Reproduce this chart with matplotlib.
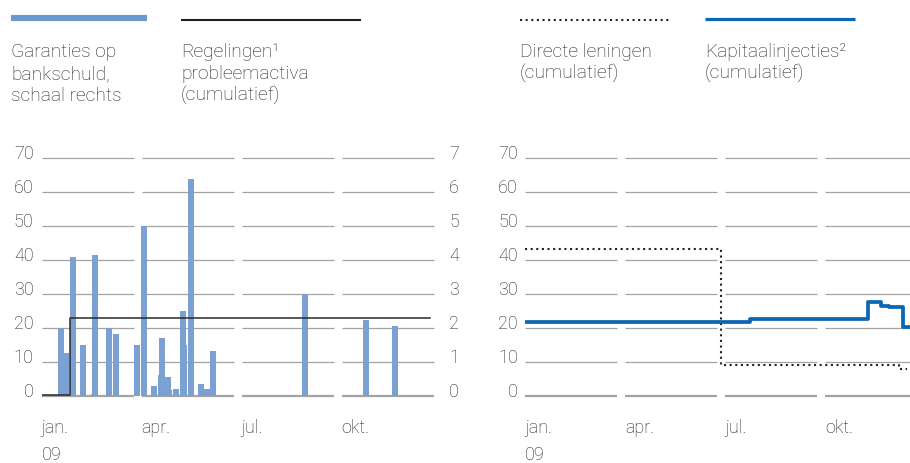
import numpy as np
import pandas as pd
import matplotlib
matplotlib.use("Agg")
import matplotlib.pyplot as plt
from matplotlib.lines import Line2D

# ---- data ------------------------------------------------------------------
# Garanties op bankschuld (right scale, 0-7); list order = drawing order
garantie_dates = ["2009-01-19", "2009-01-24", "2009-01-30", "2009-02-08",
                  "2009-02-17", "2009-02-18", "2009-03-02", "2009-03-08",
                  "2009-03-28", "2009-04-03", "2009-04-12", "2009-04-18",
                  "2009-04-19", "2009-04-26", "2009-04-25", "2009-05-02",
                  "2009-05-09", "2009-05-08", "2009-05-16", "2009-05-25",
                  "2009-05-31", "2009-06-05", "2009-08-29", "2009-10-24",
                  "2009-11-19"]
garantie_vals = [2.0, 1.27, 4.1, 1.51,
                 0.07, 4.16, 2.0, 1.83,
                 1.51, 5.0, 0.30, 0.63,
                 1.72, 0.19, 0.57, 0.22,
                 1.51, 2.51, 6.39, 0.36,
                 0.22, 1.33, 3.0, 2.25,
                 2.07]

# Regelingen probleemactiva, cumulatief (left scale)
regeling_dates = ["2009-01-01", "2009-01-27", "2009-12-21"]
regeling_vals = [0.5, 23.0, 23.0]

# Directe leningen, cumulatief
lening_dates = ["2009-01-01", "2009-06-27", "2009-12-08", "2009-12-15"]
lening_vals = [43.3, 9.2, 8.0, 8.0]

# Kapitaalinjecties, cumulatief
kapitaal_dates = ["2009-01-01", "2009-07-24", "2009-11-10", "2009-11-21",
                  "2009-11-29", "2009-12-12", "2009-12-31"]
kapitaal_vals = [21.8, 22.7, 27.7, 26.5, 26.2, 20.5, 20.5]

month_ticks = [0, 3, 6, 9]
month_labels = ["jan.", "apr.", "jul.", "okt."]
left_ticks = list(range(0, 80, 10))
right_ticks = list(range(0, 8))

# ---- style -----------------------------------------------------------------
FONT = ["Roboto", "DejaVu Sans"]
plt.rcParams["font.family"] = FONT
plt.rcParams["font.weight"] = "light"
TXT = "#222222"
GRID = "#a3a3a3"
BAR = "#7ba1d3"
BLUE = "#0b67b2"
W, H = 910, 464
TICK_FS = 13


def to_month(dates):
    d = pd.to_datetime(pd.Series(dates))
    return (d.dt.month - 1 + (d.dt.day - 1) / d.dt.days_in_month).values


def seg_grid(ax, ticks):
    # grey gridlines broken up per quarter
    for t in ticks:
        for q in month_ticks:
            ax.plot([q, q + 2.76], [t, t], color=GRID,
                    lw=1.6 if t == 0 else 0.9, solid_capstyle="butt",
                    clip_on=False, zorder=0)


def style_axes(ax, side, pad):
    for s in ax.spines.values():
        s.set_visible(False)
    ax.tick_params(length=0, labelsize=TICK_FS, labelcolor=TXT)
    ax.set_xticks(month_ticks)
    ax.set_xticklabels(month_labels, ha="left", va="baseline")
    ax.tick_params(axis="x", pad=25.5)
    ax.tick_params(axis="y", pad=pad, left=False, right=False,
                   labelleft=(side == "left"), labelright=(side == "right"))
    for lbl in ax.get_yticklabels():
        lbl.set_va("baseline")


fig = plt.figure(figsize=(W / 100, H / 100), dpi=100)
bottom = 1 - 397.3 / H
height = 238 / H
px_per_month = 100 / 3

# ---- left panel ------------------------------------------------------------
axb = fig.add_axes([41.7 / W, bottom, 400 / W, height])
axl = axb.twinx()
axl.set_zorder(axb.get_zorder() + 1)
axl.patch.set_visible(False)

axb.set_xlim(0, 12)
axb.set_ylim(0, 7)
seg_grid(axb, right_ticks)
axb.bar(to_month(garantie_dates), garantie_vals, width=6 / px_per_month,
        color=BAR, zorder=2)
axb.set_yticks(right_ticks)
style_axes(axb, "right", 5.3)

axl.set_ylim(0, 70)
axl.step(to_month(regeling_dates), regeling_vals, where="post",
         color="#2a2a2a", lw=1.1)
axl.set_yticks(left_ticks)
style_axes(axl, "left", 5.8)
axl.tick_params(axis="x", labelbottom=False)

# ---- right panel -----------------------------------------------------------
axr = fig.add_axes([525 / W, bottom, 385 / W, height])
axr.set_xlim(0, 385 / px_per_month)
axr.set_ylim(0, 70)
seg_grid(axr, left_ticks)
axr.step(to_month(lening_dates), lening_vals, where="post", color="#222222",
         lw=1.5, linestyle=(0, (1, 1.7)), zorder=3)
axr.step(to_month(kapitaal_dates), kapitaal_vals, where="post", color=BLUE,
         lw=2.7, zorder=4)
axr.set_yticks(left_ticks)
style_axes(axr, "left", 5.0)

# year labels under the x axes
for x0 in (41.7, 525):
    fig.text(x0 / W, 1 - 460 / H, "09", fontsize=TICK_FS, color=TXT,
             va="baseline", ha="left")

# ---- legend at top ---------------------------------------------------------
def fig_line(x0, x1, y, **kw):
    fig.add_artist(Line2D([x0 / W, x1 / W], [1 - y / H, 1 - y / H],
                          transform=fig.transFigure, solid_capstyle="butt", **kw))


fig_line(11, 147, 19, color="#6c97cf", lw=4.4)
fig_line(181, 361, 21, color="#1e1e1e", lw=1.5)
fig_line(520, 670, 20.7, color="#222222", lw=1.5, linestyle=(0, (1, 1.7)))
fig_line(705, 855, 20.3, color=BLUE, lw=2.3)

legend_texts = [
    (11, ["Garanties op", "bankschuld,", "schaal rechts"]),
    (181, ["Regelingen\u00b9", "probleemactiva", "(cumulatief)"]),
    (520, ["Directe leningen", "(cumulatief)"]),
    (705, ["Kapitaalinjecties\u00b2", "(cumulatief)"]),
]
for x0, lines in legend_texts:
    for i, s in enumerate(lines):
        fig.text(x0 / W, 1 - (56.7 + 22.2 * i) / H, s, fontsize=13.8,
                 color=TXT, va="baseline", ha="left")

fig.savefig("out.png", dpi=100)
